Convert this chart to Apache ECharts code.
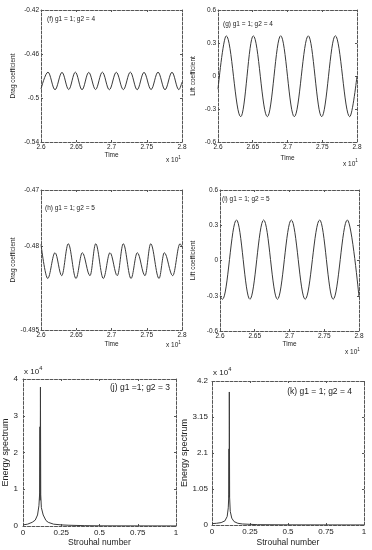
<!DOCTYPE html>
<html>
<head>
<meta charset="utf-8">
<script src="https://cdn.jsdelivr.net/npm/echarts@6/dist/echarts.min.js"></script>
<style>
  html, body { margin: 0; padding: 0; background: #fff; }
  #chart { width: 372px; height: 550px; }
</style>
</head>
<body>
<div id="chart"></div>
<script>
// tick values
const timeTicks = [2.6, 2.65, 2.7, 2.75, 2.8];
const dragTicksF = [-0.54, -0.5, -0.46, -0.42];
const liftTicks = [-0.6, -0.3, 0, 0.3, 0.6];
const dragTicksH = [-0.495, -0.48, -0.47];
const strouhalTicks = [0, 0.25, 0.5, 0.75, 1];
const energyTicksJ = [0, 1, 2, 3, 4];
const energyTicksK = [0, 1.05, 2.1, 3.15, 4.2];

// (f) drag coefficient, g2 = 4 (peaks / troughs)
const timeF = [2.6, 2.6099, 2.6199, 2.6298, 2.6393, 2.6487, 2.6582, 2.6677, 2.6774, 2.687, 2.6969,
  2.7068, 2.7168, 2.7267, 2.7364, 2.7461, 2.7561, 2.766, 2.7759, 2.7858, 2.7955, 2.8];
const dragF = [-0.4918, -0.4765, -0.4925, -0.4767, -0.4923, -0.4765, -0.4925, -0.4767, -0.4923, -0.4765, -0.4925,
  -0.4766, -0.4924, -0.4765, -0.4925, -0.4767, -0.4923, -0.4765, -0.4925, -0.4766, -0.4924, -0.4856];

// (g) lift coefficient, g2 = 4
const timeG = [2.6, 2.6119, 2.6327, 2.6508, 2.671, 2.6902, 2.7098, 2.7299, 2.7492, 2.7688, 2.7895, 2.8];
const liftG = [-0.12, 0.365, -0.37, 0.365, -0.37, 0.366, -0.37, 0.365, -0.37, 0.366, -0.37, 0.0];

// (h) drag coefficient, g2 = 5
const timeH = [2.6, 2.6095, 2.6199, 2.6294, 2.6387, 2.6496, 2.6586, 2.6695, 2.6776, 2.6884, 2.6979,
  2.7082, 2.7167, 2.7277, 2.7366, 2.7475, 2.7556, 2.7674, 2.7749, 2.7868, 2.7972, 2.8];
const dragH = [-0.4797, -0.4858, -0.4812, -0.4853, -0.4796, -0.4858, -0.4812, -0.4853, -0.4796, -0.4858, -0.4812,
  -0.4853, -0.4796, -0.4858, -0.4812, -0.4853, -0.4796, -0.4858, -0.4812, -0.4853, -0.4796, -0.4802];

// (i) lift coefficient, g2 = 5
const timeI = [2.6, 2.6036, 2.6237, 2.643, 2.6628, 2.6826, 2.7026, 2.7225, 2.7434, 2.7628, 2.7832, 2.8];
const liftI = [-0.3, -0.33, 0.345, -0.33, 0.345, -0.33, 0.345, -0.33, 0.345, -0.33, 0.345, -0.31];

// (j) energy spectrum (x 10^4), g2 = 3
const strouhalJ = [0, 0.03, 0.06, 0.08, 0.095, 0.104, 0.109, 0.111, 0.112, 0.114, 0.116, 0.12, 0.132,
  0.15, 0.165, 0.2, 0.25, 0.3, 0.4, 0.5, 0.75, 1];
const energyJ = [0.03, 0.05, 0.1, 0.16, 0.3, 0.55, 0.9, 2.7, 0.7, 3.78, 0.85, 0.5, 0.3,
  0.15, 0.1, 0.05, 0.03, 0.02, 0.01, 0.005, 0.003, 0.002];

// (k) energy spectrum (x 10^4), g2 = 4
const strouhalK = [0, 0.03, 0.06, 0.085, 0.1, 0.107, 0.111, 0.112, 0.113, 0.114, 0.116, 0.12, 0.13,
  0.145, 0.17, 0.2, 0.25, 0.3, 0.5, 0.75, 1];
const energyK = [0.04, 0.05, 0.07, 0.12, 0.25, 0.5, 0.9, 2.22, 0.8, 3.88, 0.8, 0.4, 0.2,
  0.1, 0.05, 0.03, 0.02, 0.01, 0.005, 0.003, 0.002];

const FONT = '"Liberation Sans", Arial, sans-serif';
const INK = '#222';
const BOX = '#555';
const CURVE = '#3a3a3a';

const pairs = (xs, ys) => xs.map((x, i) => [x, ys[i]]);

const grids = [
  { left: 41, top: 10, width: 141, height: 132 },
  { left: 218, top: 10, width: 139, height: 132 },
  { left: 41, top: 190, width: 141, height: 140 },
  { left: 220, top: 190, width: 139, height: 141 },
  { left: 23, top: 379, width: 153, height: 147 },
  { left: 212, top: 381, width: 152, height: 144 }
].map(g => Object.assign({ outerBoundsMode: 'none', containLabel: false }, g));

const xAxes = [];
const yAxes = [];

function addBox(gi, xr, xt, yr, yt, o) {
  const line = { show: true, onZero: false, lineStyle: { color: BOX, width: 1, type: [3, 1.5] } };
  const tickX = { show: true, inside: true, length: 2, customValues: xt, lineStyle: { color: BOX } };
  const tickY = { show: true, inside: true, length: 2, customValues: yt, lineStyle: { color: BOX } };
  const nameStyleX = { fontSize: o.nfx, color: INK, fontFamily: FONT };
  const nameStyleY = { fontSize: o.nfy, color: INK, fontFamily: FONT };
  xAxes.push({
    type: 'value', gridIndex: gi, position: 'bottom', min: xr[0], max: xr[1],
    axisLine: line, axisTick: tickX, splitLine: { show: false },
    axisLabel: { customValues: xt, fontSize: o.fs, color: INK, fontFamily: FONT, margin: o.xm,
      formatter: v => String(v) },
    name: o.xname, nameLocation: 'middle', nameGap: o.xgap, nameTextStyle: nameStyleX
  });
  xAxes.push({
    type: 'value', gridIndex: gi, position: 'top', min: xr[0], max: xr[1],
    axisLine: line, axisTick: tickX, splitLine: { show: false }, axisLabel: { show: false }
  });
  yAxes.push({
    type: 'value', gridIndex: gi, position: 'left', min: yr[0], max: yr[1],
    axisLine: line, axisTick: tickY, splitLine: { show: false },
    axisLabel: { customValues: yt, fontSize: o.fs, color: INK, fontFamily: FONT, margin: o.ym,
      formatter: v => String(v) },
    name: o.yname, nameLocation: 'middle', nameGap: o.ygap, nameTextStyle: nameStyleY
  });
  yAxes.push({
    type: 'value', gridIndex: gi, position: 'right', min: yr[0], max: yr[1],
    axisLine: line, axisTick: tickY, splitLine: { show: false }, axisLabel: { show: false }
  });
}

const ts = { fs: 6.5, nfx: 6.5, nfy: 6.5, xm: 2, ym: 2, xname: 'Time' };
addBox(0, [2.6, 2.8], timeTicks, [-0.54, -0.42], dragTicksF,
  Object.assign({}, ts, { yname: 'Drag coefficient', xgap: 10, ygap: 24.5 }));
addBox(1, [2.6, 2.8], timeTicks, [-0.6, 0.6], liftTicks,
  Object.assign({}, ts, { yname: 'Lift coefficient', xgap: 12.5, ygap: 21.5 }));
addBox(2, [2.6, 2.8], timeTicks, [-0.495, -0.47], dragTicksH,
  Object.assign({}, ts, { yname: 'Drag coefficient', xgap: 10.5, ygap: 24.5 }));
addBox(3, [2.6, 2.8], timeTicks, [-0.6, 0.6], liftTicks,
  Object.assign({}, ts, { yname: 'Lift coefficient', xgap: 8.5, ygap: 23.5 }));
const sp = { fs: 8, nfx: 8.5, nfy: 9, xm: 3, xname: 'Strouhal number', yname: 'Energy spectrum' };
addBox(4, [0, 1], strouhalTicks, [0, 4], energyTicksJ,
  Object.assign({}, sp, { ym: 5, xgap: 12.5, ygap: 10.5 }));
addBox(5, [0, 1], strouhalTicks, [0, 4.2], energyTicksK,
  Object.assign({}, sp, { ym: 4, xgap: 13.5, ygap: 18.5 }));

function line(gi, data, smooth) {
  return {
    type: 'line', xAxisIndex: gi * 2, yAxisIndex: gi * 2, data: data,
    showSymbol: false, symbol: 'none', silent: true,
    smooth: smooth ? 0.36 : false, smoothMonotone: smooth ? 'x' : undefined,
    lineStyle: { color: CURVE, width: 1 }
  };
}

function txt(x, y, s, fs, align) {
  return { type: 'text', x: x, y: y, silent: true,
    style: { text: s, fontSize: fs, fontFamily: FONT, fill: INK, align: align || 'left', verticalAlign: 'middle' } };
}
function expo(x, y, sup, fs) {
  return [txt(x, y, 'x 10', fs), txt(x + fs * 1.9, y - fs * 0.5, sup, fs * 0.7)];
}

const graphics = [
  txt(47, 19, '(f) g1 = 1; g2 = 4', 6.5),
  txt(223, 24, '(g) g1 = 1; g2 = 4', 6.5),
  txt(45, 208, '(h) g1 = 1; g2 = 5', 6.5),
  txt(222, 199, '(i) g1 = 1; g2 = 5', 6.5),
  txt(170, 388, '(j) g1 =1; g2 = 3', 8.5, 'right'),
  txt(352, 392, '(k) g1 = 1; g2 = 4', 8.5, 'right')
].concat(
  expo(166, 160.5, '1', 6.5),
  expo(343, 164, '1', 6.5),
  expo(166, 345.5, '1', 6.5),
  expo(345, 352.5, '1', 6.5),
  expo(24, 372, '4', 8),
  expo(213, 373, '4', 8)
);

const chart = echarts.init(document.getElementById('chart'));
chart.setOption({
  animation: false,
  backgroundColor: '#fff',
  grid: grids,
  xAxis: xAxes,
  yAxis: yAxes,
  series: [
    line(0, pairs(timeF, dragF), true),
    line(1, pairs(timeG, liftG), true),
    line(2, pairs(timeH, dragH), true),
    line(3, pairs(timeI, liftI), true),
    line(4, pairs(strouhalJ, energyJ), false),
    line(5, pairs(strouhalK, energyK), false)
  ],
  graphic: graphics
});
</script>
</body>
</html>
